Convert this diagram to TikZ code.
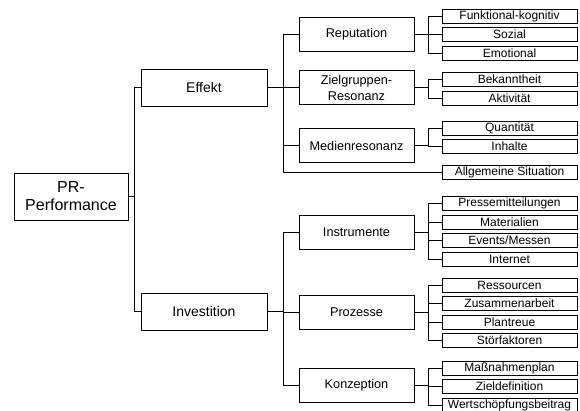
\documentclass[tikz,border=0pt]{standalone}
\usepackage{fontspec}
\setmainfont{Liberation Sans}
\usetikzlibrary{positioning, shadows}

\begin{document}
\begin{tikzpicture}[x=1pt, y=-1pt, node distance=3.8pt, line width=0.7pt,
        box/.style={draw, rectangle, fill=white, inner sep=0pt, align=center,
            drop shadow={shadow xshift=0.8pt, shadow yshift=-0.8pt, opacity=1, fill=black!75}},
        root/.style={box, minimum width=114pt, minimum height=47pt, font=\fontsize{16}{18}\selectfont},
        lvlone/.style={box, minimum width=126pt, minimum height=37pt, font=\fontsize{14}{16}\selectfont},
        lvltwo/.style={box, minimum width=115pt, minimum height=34pt, font=\fontsize{12.7}{16}\selectfont},
        leaf/.style={box, minimum width=135pt, minimum height=14pt, font=\fontsize{12}{13}\selectfont}]
        \useasboundingbox (0,0) rectangle (580,411);

        \node[root] (perf) at (71,196.5) {PR-\\Performance};
        \node[lvlone] (eff) at (204,87.5) {Effekt};
        \node[lvlone] (inv) at (204,311.5) {Investition};

        \node[lvltwo] (rep) at (356.5,34) {Reputation};
        \node[lvltwo] (ziel) at (356.5,87.5) {Zielgruppen-\\Resonanz};
        \node[lvltwo] (med) at (356.5,145.5) {Medienresonanz};
        \node[lvltwo] (instr) at (356.5,232) {Instrumente};
        \node[lvltwo] (proz) at (356.5,312) {Prozesse};
        \node[lvltwo] (konz) at (356.5,385) {Konzeption};

        % Effekt leaves
        \node[leaf] (funk) at (509.5,16) {Funktional-kognitiv};
        \node[leaf] (soz) [below=of funk] {Sozial};
        \node[leaf] (emo) [below=of soz] {Emotional};
        \node[leaf] (bek) at (509.5,79.5) {Bekanntheit};
        \node[leaf] (akt) [below=of bek] {Aktivität};
        \node[leaf] (quant) at (509.5,128) {Quantität};
        \node[leaf] (inh) [below=of quant] {Inhalte};
        \node[leaf] (allg) at (509.5,172) {Allgemeine Situation};

        % Investition leaves
        \node[leaf] (presse) at (509.5,203.5) {Pressemitteilungen};
        \node[leaf] (mat) [below=of presse] {Materialien};
        \node[leaf] (event) [below=of mat] {Events/Messen};
        \node[leaf] (inet) [below=of event] {Internet};
        \node[leaf] (res) at (509.5,285) {Ressourcen};
        \node[leaf] (zus) [below=of res] {Zusammenarbeit};
        \node[leaf] (plan) [below=of zus] {Plantreue};
        \node[leaf] (stoer) [below=of plan] {Störfaktoren};
        \node[leaf] (mass) at (509.5,368) {Maßnahmenplan};
        \node[leaf] (zield) [below=of mass] {Zieldefinition};
        \node[leaf] (wert) [below=of zield] {Wertschöpfungsbeitrag};

        \foreach \c in {eff, inv} {
            \draw (perf.east) -- ++(6,0) |- (\c.west);
        }
        \foreach \c in {rep, ziel, med, allg} {
            \draw (eff.east) -- ++(16,0) |- (\c.west);
        }
        \foreach \c in {instr, proz, konz} {
            \draw (inv.east) -- ++(16,0) |- (\c.west);
        }
        \foreach \p/\c in {rep/funk, rep/soz, rep/emo, ziel/bek, ziel/akt, med/quant, med/inh,
                instr/presse, instr/mat, instr/event, instr/inet,
                proz/res, proz/zus, proz/plan, proz/stoer,
                konz/mass, konz/zield, konz/wert} {
            \draw (\p.east) -- ++(14,0) |- (\c.west);
        }
    \end{tikzpicture}
\end{document}
